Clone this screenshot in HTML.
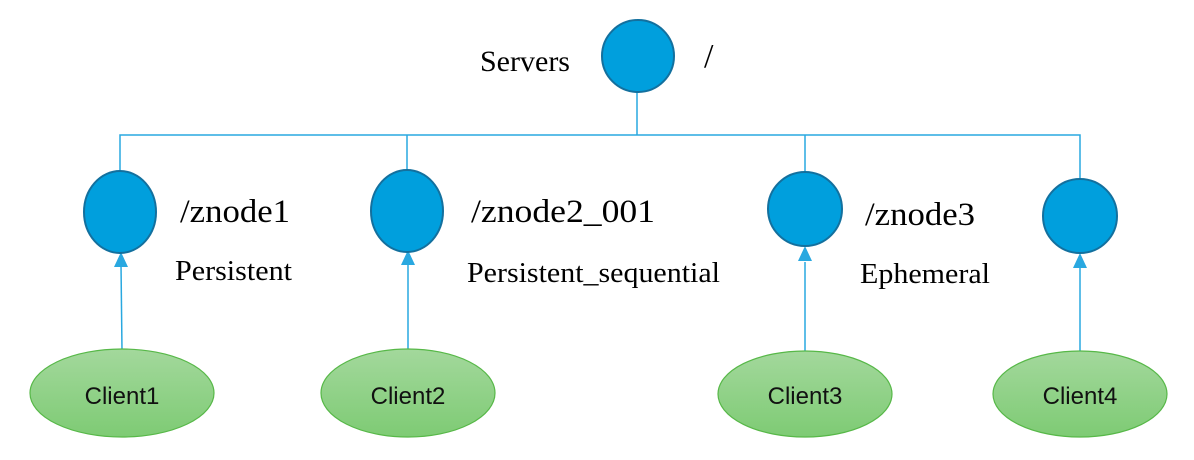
<!DOCTYPE html>
<html><head><meta charset="utf-8"><style>body{margin:0;background:#fff}svg{display:block}</style></head>
<body>
<svg width="1194" height="460" viewBox="0 0 1194 460" xmlns="http://www.w3.org/2000/svg">
<defs>
<linearGradient id="g" x1="0" y1="0" x2="0" y2="1"><stop offset="0" stop-color="#a3d89c"/><stop offset="1" stop-color="#7ecb74"/></linearGradient>
</defs>
<g stroke="#29a8e0" stroke-width="1.5" fill="none">
<line x1="637" y1="92" x2="637" y2="135"/>
<polyline points="120,172 120,135 1080,135 1080,180"/>
<line x1="407" y1="135" x2="407" y2="172"/>
<line x1="805" y1="135" x2="805" y2="172"/>
<line x1="122" y1="351" x2="121" y2="264"/>
<line x1="408" y1="351" x2="408" y2="264"/>
<line x1="805" y1="351" x2="805" y2="262"/>
<line x1="1080" y1="351" x2="1080" y2="268"/>
</g>
<g fill="#29a8e0">
<polygon points="121,252 114,267 128,267"/>
<polygon points="408,250 401,265 415,265"/>
<polygon points="805,246 798,261 812,261"/>
<polygon points="1080,253 1073,268 1087,268"/>
</g>
<g fill="#009fdd" stroke="#13709e" stroke-width="2">
<circle cx="638" cy="56" r="36"/>
<ellipse cx="120" cy="212" rx="36" ry="41"/>
<ellipse cx="407" cy="211" rx="36" ry="41"/>
<circle cx="805" cy="209" r="37"/>
<circle cx="1080" cy="216" r="37"/>
</g>
<g fill="url(#g)" stroke="#57b848" stroke-width="1.2">
<ellipse cx="122" cy="393" rx="92" ry="44"/>
<ellipse cx="408" cy="393" rx="87" ry="44"/>
<ellipse cx="805" cy="394" rx="87" ry="43"/>
<ellipse cx="1080" cy="394" rx="87" ry="43"/>
</g>
<g font-family="Liberation Serif, serif" fill="#000">
<text x="480" y="71" font-size="30" textLength="90" lengthAdjust="spacingAndGlyphs">Servers</text>
<text x="704" y="67" font-size="34">/</text>
<text x="180" y="222" font-size="33" textLength="110" lengthAdjust="spacingAndGlyphs">/znode1</text>
<text x="175" y="280" font-size="28" textLength="117" lengthAdjust="spacingAndGlyphs">Persistent</text>
<text x="471" y="222" font-size="33" textLength="184" lengthAdjust="spacingAndGlyphs">/znode2_001</text>
<text x="467" y="282" font-size="28" textLength="253" lengthAdjust="spacingAndGlyphs">Persistent_sequential</text>
<text x="865" y="225" font-size="33" textLength="110" lengthAdjust="spacingAndGlyphs">/znode3</text>
<text x="860" y="283" font-size="28" textLength="130" lengthAdjust="spacingAndGlyphs">Ephemeral</text>
</g>
<g font-family="Liberation Sans, sans-serif" font-size="24" fill="#111" text-anchor="middle">
<text x="122" y="404">Client1</text>
<text x="408" y="404">Client2</text>
<text x="805" y="404">Client3</text>
<text x="1080" y="404">Client4</text>
</g>
</svg>
</body></html>
